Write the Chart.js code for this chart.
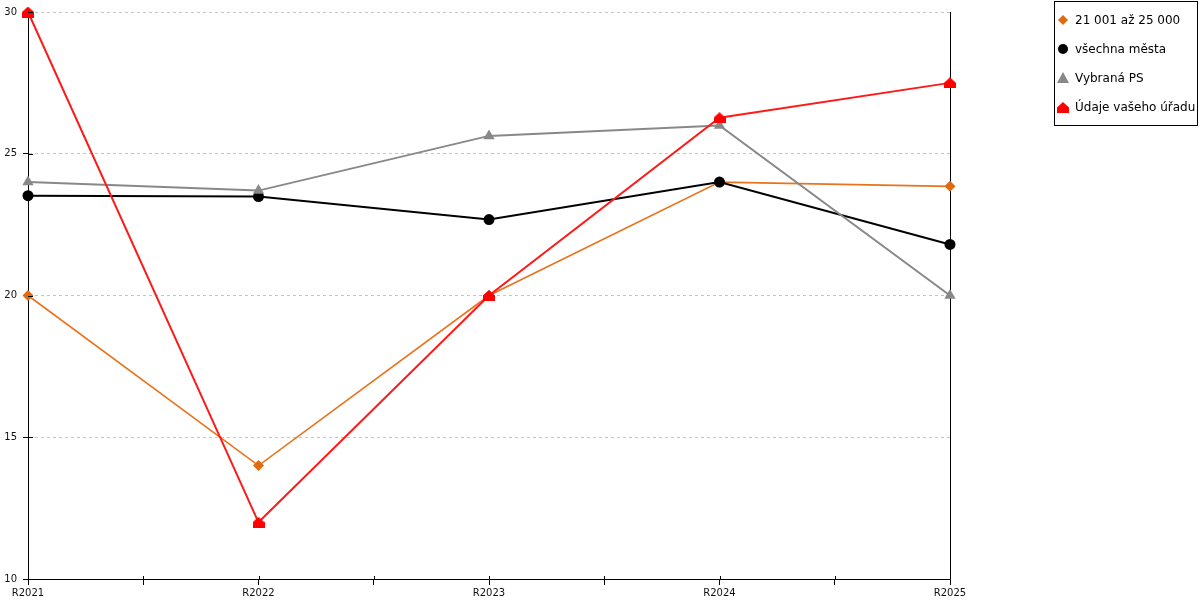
<!DOCTYPE html>
<html><head><meta charset="utf-8">
<script src="https://cdn.jsdelivr.net/npm/chart.js@4/dist/chart.umd.min.js"></script>
<style>html,body{margin:0;padding:0;background:#fff}#wrap{width:1200px;height:600px;position:relative}</style>
</head><body><div id="wrap"><canvas id="c" width="1200" height="600"></canvas></div>
<script>
const categories = ['R2021', 'R2022', 'R2023', 'R2024', 'R2025'];
const seriesNames = ['21 001 až 25 000', 'všechna města', 'Vybraná PS', 'Údaje vašeho úřadu'];
const valsGroup = [20, 14, 20, 24, 23.85];
const valsAll = [23.52, 23.49, 22.68, 24.0, 21.8];
const valsPS = [24, 23.7, 25.63, 26, 20];
const valsOffice = [30, 12, 20, 26.27, 27.5];
const yMin = 10, yMax = 30, yStep = 5;

function houseCanvas(w, h, color) {
  const c = document.createElement('canvas');
  c.width = w; c.height = h;
  const g = c.getContext('2d');
  g.fillStyle = color;
  g.beginPath();
  g.moveTo(0, h); g.lineTo(w, h); g.lineTo(w, h * 0.5);
  g.lineTo(w / 2, 0); g.lineTo(0, h * 0.5); g.closePath(); g.fill();
  return c;
}
const house = houseCanvas(12, 11, '#ff0000');

const toPts = arr => arr.map((v, i) => ({x: i, y: v}));

const styles = [
  {color: '#e8731c', fill: '#e06a10', lw: 1.6, ps: 'rectRot', r: 5.5},
  {color: '#000000', fill: '#000000', lw: 2, ps: 'circle', r: 5.5},
  {color: '#888888', fill: '#888888', lw: 2, ps: 'triangle', r: 6.5},
  {color: '#ff1a1a', fill: '#ff0000', lw: 2, ps: house, r: 6}
];
const seriesVals = [valsGroup, valsAll, valsPS, valsOffice];

const datasets = seriesVals.map((vals, k) => ({
  label: seriesNames[k],
  data: toPts(vals),
  borderColor: styles[k].color,
  backgroundColor: styles[k].fill,
  borderWidth: styles[k].lw,
  pointStyle: styles[k].ps,
  pointRadius: styles[k].r,
  pointHoverRadius: styles[k].r,
  pointBorderWidth: 0,
  pointBackgroundColor: styles[k].fill,
  tension: 0,
  clip: false,
  order: 4 - k
}));

const innerTicks = {
  id: 'innerTicks',
  afterDraw(chart) {
    const ctx = chart.ctx, ys = chart.scales.y, xs = chart.scales.x;
    ctx.save();
    ctx.strokeStyle = '#000'; ctx.lineWidth = 1;
    ctx.beginPath();
    ys.ticks.forEach(t => {
      const p = Math.round(ys.getPixelForValue(t.value)) + 0.5;
      ctx.moveTo(ys.right, p); ctx.lineTo(ys.right + 5, p);
    });
    xs.ticks.forEach(t => {
      const p = Math.round(xs.getPixelForValue(t.value)) + 0.5;
      ctx.moveTo(p, xs.top); ctx.lineTo(p, xs.top - 3);
    });
    ctx.stroke();
    ctx.restore();
  }
};

const legendPlugin = {
  id: 'boxLegend',
  afterDraw(chart) {
    const ctx = chart.ctx;
    ctx.save();
    ctx.strokeStyle = '#000';
    ctx.lineWidth = 1;
    ctx.strokeRect(1054.5, 1.5, 143, 124);
    ctx.font = '12px "DejaVu Sans"';
    ctx.textBaseline = 'middle';
    ctx.textAlign = 'left';
    chart.data.datasets.forEach((ds, i) => {
      const y = 20 + i * 29;
      const x = 1063;
      ctx.fillStyle = ds.pointBackgroundColor;
      ctx.beginPath();
      if (i === 0) {
        ctx.moveTo(x, y - 5); ctx.lineTo(x + 5, y); ctx.lineTo(x, y + 5); ctx.lineTo(x - 5, y); ctx.closePath(); ctx.fill();
      } else if (i === 1) {
        ctx.arc(x, y, 5, 0, Math.PI * 2); ctx.fill();
      } else if (i === 2) {
        ctx.moveTo(x, y - 6); ctx.lineTo(x + 6, y + 5); ctx.lineTo(x - 6, y + 5); ctx.closePath(); ctx.fill();
      } else {
        ctx.drawImage(house, x - 6, y - 5);
      }
      ctx.fillStyle = '#000';
      ctx.fillText(ds.label, 1075, y + 0.5);
    });
    ctx.restore();
  }
};

new Chart(document.getElementById('c'), {
  type: 'line',
  data: {datasets},
  options: {
    responsive: false,
    animation: false,
    events: [],
    layout: {padding: {top: 11, right: 250, left: 0, bottom: 0}},
    plugins: {legend: {display: false}, tooltip: {enabled: false}},
    scales: {
      x: {
        type: 'linear', min: 0, max: categories.length - 1,
        afterFit: s => { s.height = 21; },
        ticks: {
          stepSize: 0.5, autoSkip: false, maxRotation: 0, padding: 2,
          color: '#111', font: {family: 'DejaVu Sans', size: 10},
          callback: v => Number.isInteger(v) ? categories[v] : ''
        },
        grid: {drawOnChartArea: false, tickLength: 6, color: '#000'},
        border: {color: '#000', width: 1}
      },
      y: {
        min: yMin, max: yMax,
        afterFit: s => { s.width = 28; },
        ticks: {stepSize: yStep, padding: 6, color: '#111', font: {family: 'DejaVu Sans', size: 10}},
        grid: {color: '#c4c4c4', tickColor: '#000', tickLength: 5, tickBorderDash: []},
        border: {color: '#000', width: 1, dash: [3, 3]}
      },
      y2: {
        position: 'right',
        afterFit: s => { s.width = 0; },
        ticks: {display: false},
        grid: {display: false, drawTicks: false},
        border: {color: '#000', width: 1}
      }
    }
  },
  plugins: [innerTicks, legendPlugin]
});
</script>
</body></html>
